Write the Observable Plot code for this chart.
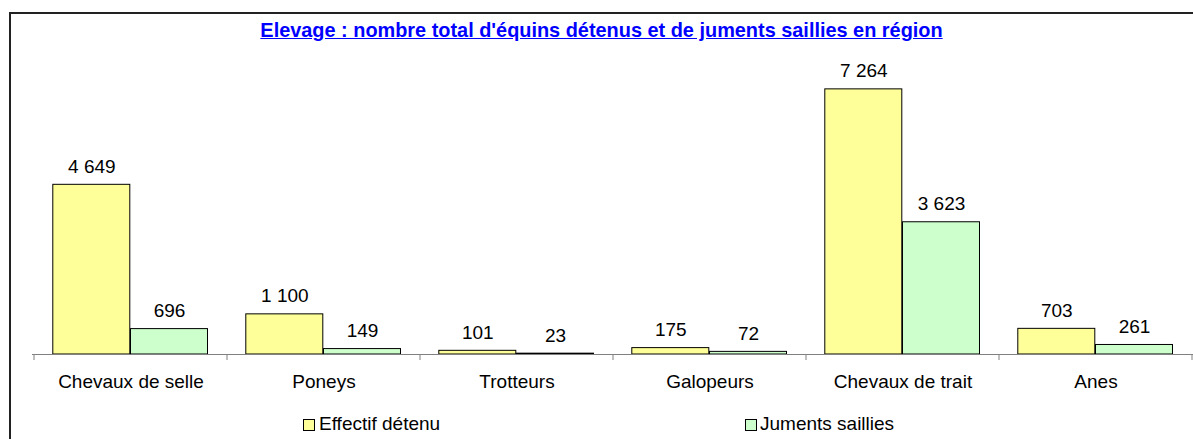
<!DOCTYPE html>
<html>
<head>
<meta charset="utf-8">
<script src="https://cdn.jsdelivr.net/npm/d3@7"></script>
<script src="https://cdn.jsdelivr.net/npm/@observablehq/plot@0.6"></script>
<style>
  html, body { margin: 0; padding: 0; background: #fff; }
  #wrap { position: relative; width: 1193px; height: 439px; overflow: hidden; background: #fff;
          font-family: Arial, "Liberation Sans", sans-serif; color: #000; }
  #frame { position: absolute; left: 9px; top: 12px; width: 1300px; height: 600px;
           border: 2px solid #222; box-sizing: border-box; }
  #title { position: absolute; left: 0; width: 1203px; top: 18px; text-align: center;
           font-weight: bold; font-size: 19.9px; line-height: 24px; color: #0000ff;
           text-decoration: underline; white-space: nowrap; }
  #chart { position: absolute; left: 0; top: 0; width: 1196px; }
  #chart svg { max-width: none !important; }
  .lg-box { position: absolute; width: 10px; height: 10px; border: 1px solid #000; }
  .lg-txt { position: absolute; font-size: 19px; line-height: 22px; white-space: nowrap; }
</style>
</head>
<body>
<div id="wrap">
  <div id="frame"></div>
  <div id="chart"></div>
  <div id="title"></div>
  <div id="legend"></div>
</div>
<script>
const categories = ["Chevaux de selle", "Poneys", "Trotteurs", "Galopeurs", "Chevaux de trait", "Anes"];
const seriesNames = ["Effectif détenu", "Juments saillies"];
const effectif = [4649, 1100, 101, 175, 7264, 703];
const juments = [696, 149, 23, 72, 3623, 261];
const seriesColors = ["#ffff99", "#ccffcc"];
const titleText = "Elevage : nombre total d'équins détenus et de juments saillies en région";

const fmt = d3.formatLocale({decimal: ",", thousands: " ", grouping: [3], currency: ["", " €"]}).format(",d");

const rowsA = categories.map((c, i) => ({cat: c, value: effectif[i]}));
const rowsB = categories.map((c, i) => ({cat: c, value: juments[i]}));

const W = 1196, H = 439, ML = 32, MR = 2, MT = 62, MB = 85;

function boundaryTicks(index, scales, values, dimensions) {
  const x = scales && scales.x;
  const y0 = scales && scales.y ? scales.y(0) : (H - MB);
  let edges;
  if (x && typeof x.bandwidth === "function") {
    edges = categories.map(c => x(c));
    edges.push(x(categories[categories.length - 1]) + x.bandwidth());
  } else {
    const dm = dimensions || {width: W, marginLeft: ML, marginRight: MR};
    const bw = (dm.width - dm.marginLeft - dm.marginRight) / categories.length;
    edges = d3.range(categories.length + 1).map(i => dm.marginLeft + i * bw);
  }
  const g = d3.create("svg:g");
  g.selectAll("line").data(edges).join("line")
    .attr("x1", d => d).attr("x2", d => d)
    .attr("y1", y0).attr("y2", y0 + 6)
    .attr("stroke", "#808080").attr("stroke-width", 1);
  return g.node();
}

const chart = Plot.plot({
  width: W,
  height: H,
  marginLeft: ML,
  marginRight: MR,
  marginTop: MT,
  marginBottom: MB,
  style: {fontFamily: "Arial, 'Liberation Sans', sans-serif", fontSize: "19px", background: "transparent", overflow: "visible", color: "#000", maxWidth: "none"},
  x: {domain: categories, padding: 0, axis: null},
  y: {domain: [0, 8000], axis: null},
  marks: [
    Plot.barY(rowsA, {x: "cat", y: "value", fill: seriesColors[0], stroke: "#000", strokeWidth: 1, insetLeft: 18.8, insetRight: 97.2}),
    Plot.barY(rowsB, {x: "cat", y: "value", fill: seriesColors[1], stroke: "#000", strokeWidth: 1, insetLeft: 96.5, insetRight: 19.5}),
    Plot.ruleY([0], {stroke: "#808080", strokeWidth: 1}),
    boundaryTicks,
    Plot.text(rowsA, {x: "cat", y: "value", text: d => fmt(d.value), dx: -39.2, dy: -18, fill: "#000", fontSize: 19}),
    Plot.text(rowsB, {x: "cat", y: "value", text: d => fmt(d.value), dx: 38.5, dy: -18, fill: "#000", fontSize: 19}),
    Plot.text(categories, {x: d => d, y: () => 0, text: d => d, dy: 27, fill: "#000", fontSize: 19})
  ]
});
document.getElementById("chart").appendChild(chart);

document.getElementById("title").textContent = titleText;

const legendPos = [{box: 303, txt: 319}, {box: 745, txt: 760}];
const legend = document.getElementById("legend");
seriesNames.forEach((name, i) => {
  const b = document.createElement("div");
  b.className = "lg-box";
  b.style.left = legendPos[i].box + "px";
  b.style.top = "419px";
  b.style.background = seriesColors[i];
  legend.appendChild(b);
  const t = document.createElement("div");
  t.className = "lg-txt";
  t.style.left = legendPos[i].txt + "px";
  t.style.top = "413px";
  t.textContent = name;
  legend.appendChild(t);
});
</script>
</body>
</html>
